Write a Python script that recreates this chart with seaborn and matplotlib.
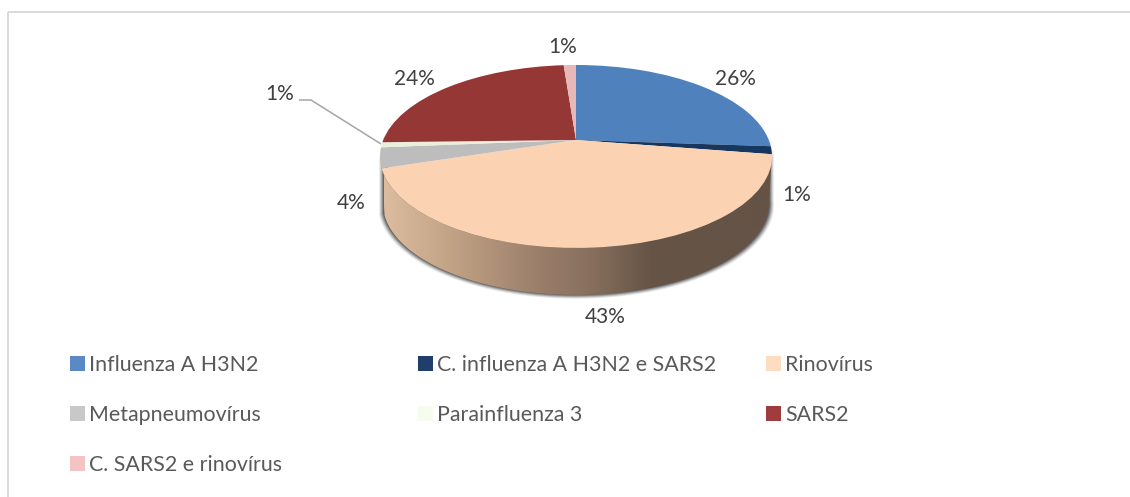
import numpy as np
import matplotlib
matplotlib.use("Agg")
import matplotlib.pyplot as plt
import seaborn as sns
from matplotlib.colors import LinearSegmentedColormap
from matplotlib.patches import Patch, Polygon, Rectangle
from matplotlib.transforms import Transform

categories = ["Influenza A H3N2", "C. influenza A H3N2 e SARS2", "Rinovírus",
              "Metapneumovírus", "Parainfluenza 3", "SARS2", "C. SARS2 e rinovírus"]
values = [26.1, 1.4, 42.6, 3.6, 0.9, 24.2, 1.2]
value_labels = ["26%", "1%", "43%", "4%", "1%", "24%", "1%"]
top_colors = ["#4f81bd", "#17375e", "#fbd3b3", "#bdbdbd", "#e8efda", "#953735", "#e6b8b7"]
legend_colors = ["#5a8ac6", "#1f3e6b", "#fddcbf", "#c8c8c8", "#f7fdee", "#a03c3c", "#f4c4c4"]
label_centers = [(735, 79), (797, 195), (605, 317), (351, 203), (280, 94), (414, 79), (563, 47)]
legend_columns = [[0, 3, 6], [1, 4], [2, 5]]
legend_lefts = [70, 418, 766]

sns.set_theme(style="white")
plt.rcParams["font.family"] = ["Lato", "DejaVu Sans"]

W, H = 1130, 497
CX, APEX, A, B, C = 576.0, 140.0, 88.5, 0.18, 192.8
DEPTH = 47.0


def project(x, y, grow=1.0, depth=0.0, xscale=1.0):
    """Perspective of the unit disk to canvas pixels."""
    w = 1 + B * y
    return (CX + xscale * grow * C * x / w,
            APEX - grow * A * y / w + depth + (grow - 1) * 60)


class Tilt(Transform):
    input_dims = output_dims = 2

    def transform_non_affine(self, v):
        v = np.asarray(v, dtype=float)
        return np.column_stack(project(v[:, 0], v[:, 1]))


fig = plt.figure(figsize=(W / 100, H / 100), dpi=100, facecolor="white")
ax = fig.add_axes([0, 0, 1, 1])

wedges, _ = ax.pie(values, startangle=90, counterclock=False,
                   colors=sns.color_palette(top_colors), radius=1)
tilt = Tilt() + ax.transData
for w in wedges:
    w.set_transform(tilt)
    w.set_zorder(3)
    w.set_linewidth(0)

# side wall of the large front slice
edges = np.cumsum([0] + values) / sum(values) * 2 * np.pi
th = np.linspace(edges[2], edges[3], 200)
tx, ty = project(np.sin(th), np.cos(th))
bx, by = project(np.sin(th), np.cos(th), depth=DEPTH, xscale=0.985)
side_xy = np.column_stack([np.r_[tx, bx[::-1]], np.r_[ty, by[::-1]]])

# soft shadow under the wall
for grow_px, alpha in [(5, 0.10), (4, 0.16), (3, 0.24), (2, 0.34), (1, 0.45)]:
    g = 1 + grow_px / 192
    th2 = np.linspace(edges[2] - 0.02, edges[3] + 0.02, 200)
    sx, sy = project(np.sin(th2), np.cos(th2), grow=g, depth=DEPTH - 0.5, xscale=0.985)
    ax.fill(np.r_[sx, sx[::-1]], np.r_[sy, sy[::-1] - 60], color="#3c3c3c", alpha=alpha,
            lw=0, zorder=1)

ramp = LinearSegmentedColormap.from_list("wall", [
    (0.00, "#dcbc9e"), (0.17, "#c2a386"), (0.40, "#9a7e6a"),
    (0.53, "#88705e"), (0.69, "#665446"), (1.00, "#645346")])
im = ax.imshow(np.linspace(0, 1, 400)[None, :], extent=(384, 772, 300, 150),
               cmap=ramp, aspect="auto", zorder=2, interpolation="bilinear")
im.set_clip_path(Polygon(side_xy, transform=ax.transData))

ax.set_aspect("auto")
ax.set_xlim(0, W)
ax.set_ylim(H, 0)
ax.axis("off")

# chart frame: only its top and left edges fall inside the picture
ax.add_patch(Rectangle((8, 11.5), W + 50, H + 50, fill=False, ec="#d9d9d9", lw=1.4, zorder=0))

# leader line
ax.plot([299, 311, 381], [100, 100, 144], color="#a6a6a6", lw=1.1, zorder=4,
        solid_capstyle="butt")

for text, (x, y) in zip(value_labels, label_centers):
    ax.text(x, y, text, ha="center", va="center", fontsize=15, color="#404040", zorder=5)

# legend: one block per column, as the columns are evenly spaced
FS = 15.4
fs_px = FS * 100 / 72
for n, (col, left) in enumerate(zip(legend_columns, legend_lefts)):
    handles = [Patch(facecolor=legend_colors[i], edgecolor="none", label=categories[i]) for i in col]
    leg = ax.legend(handles=handles, loc="upper left",
                    bbox_to_anchor=(left / W, 1 - 355 / H), bbox_transform=fig.transFigure,
                    frameon=False, fontsize=FS, borderpad=0, borderaxespad=0,
                    handlelength=15 / fs_px, handleheight=15 / fs_px,
                    handletextpad=4 / fs_px, labelspacing=1.4, labelcolor="#595959")
    if n < len(legend_columns) - 1:
        ax.add_artist(leg)

fig.savefig("out.png", dpi=100, facecolor="white")
